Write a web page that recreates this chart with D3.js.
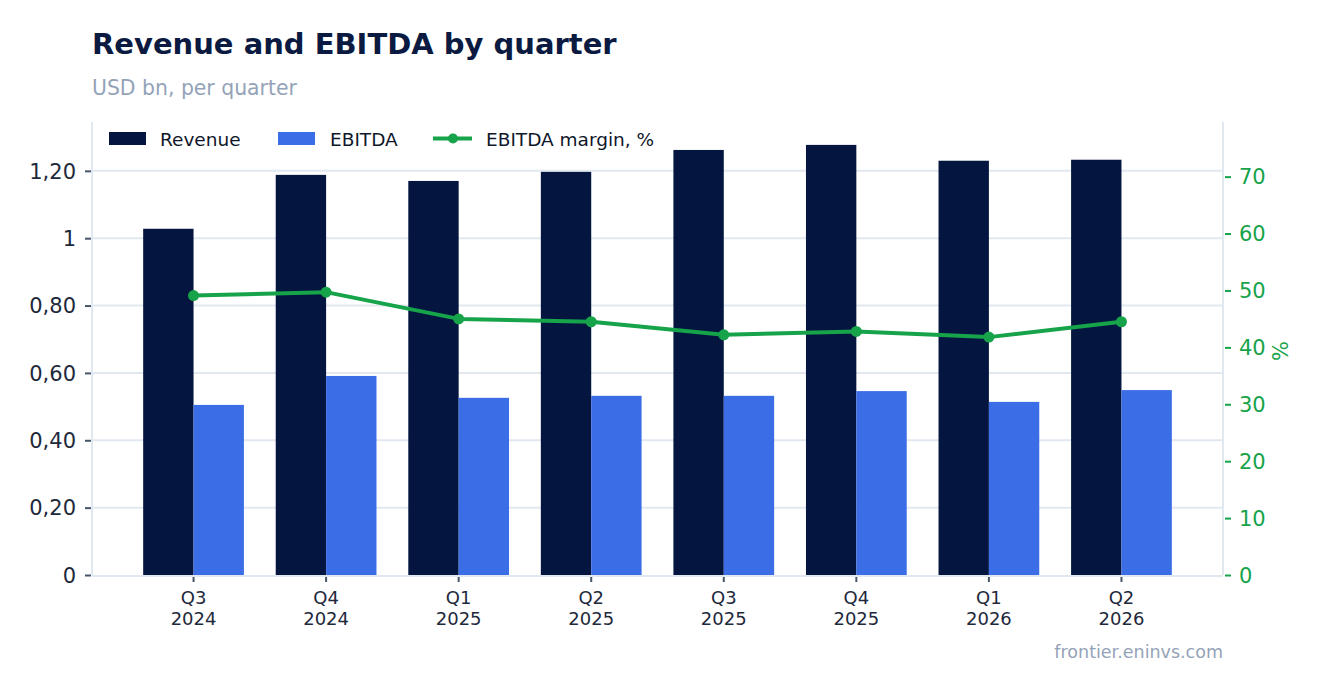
<!DOCTYPE html>
<html>
<head>
<meta charset="utf-8">
<script src="https://cdn.jsdelivr.net/npm/d3@7"></script>
<style>
  html, body { margin: 0; padding: 0; background: #ffffff; }
  svg { display: block; font-family: "DejaVu Sans", sans-serif; }
</style>
</head>
<body>
<svg id="chart" width="1323" height="693"></svg>
<script>
const categories = ["Q3\n2024", "Q4\n2024", "Q1\n2025", "Q2\n2025", "Q3\n2025", "Q4\n2025", "Q1\n2026", "Q2\n2026"];
const revenue = [1.028, 1.188, 1.170, 1.197, 1.262, 1.277, 1.230, 1.233];
const ebitda = [0.505, 0.591, 0.526, 0.532, 0.532, 0.546, 0.514, 0.549];
const margin = [49.1, 49.7, 45.0, 44.5, 42.2, 42.8, 41.8, 44.5];
const leftTicks = [0, 0.2, 0.4, 0.6, 0.8, 1, 1.2];
const leftTickLabels = ["0", "0,20", "0,40", "0,60", "0,80", "1", "1,20"];
const rightTicks = [0, 10, 20, 30, 40, 50, 60, 70];
const seriesNames = ["Revenue", "EBITDA", "EBITDA margin, %"];

(function () {
const colors = { revenue: "#041640", ebitda: "#3a6de6", margin: "#16a34a", grid: "#e2e8f0", text: "#1e293b" };
const FONT = "DejaVu Sans";

const svg = d3.select("#chart");
const pLeft = 92, pRight = 1223, pTop = 122, pBottom = 575;

const x = d3.scaleBand().domain(categories).range([pLeft, pRight]).paddingInner(0.24).paddingOuter(0.386);
const xSub = d3.scaleBand().domain(["rev", "ebitda"]).range([0, x.bandwidth()]);
const y = d3.scaleLinear().domain([0, 1.345]).range([pBottom, pTop]);
const y2 = d3.scaleLinear().domain([0, 79.6]).range([pBottom, pTop]);

// title
svg.append("text").attr("x", 92).attr("y", 54).attr("font-size", 29).attr("font-weight", "bold")
  .attr("fill", "#0b1a40").text("Revenue and EBITDA by quarter");
svg.append("text").attr("x", 92).attr("y", 95).attr("font-size", 20.4).attr("fill", "#94a3b8")
  .text("USD bn, per quarter");

// gridlines
svg.append("g").selectAll("line").data(leftTicks.filter(d => d > 0)).join("line")
  .attr("x1", pLeft).attr("x2", pRight).attr("y1", d => y(d)).attr("y2", d => y(d))
  .attr("stroke", colors.grid).attr("stroke-width", 2);

// axis lines
svg.append("line").attr("x1", pLeft).attr("x2", pLeft).attr("y1", pTop).attr("y2", pBottom).attr("stroke", colors.grid).attr("stroke-width", 2);
svg.append("line").attr("x1", pRight).attr("x2", pRight).attr("y1", pTop).attr("y2", pBottom).attr("stroke", colors.grid).attr("stroke-width", 2);

// bars
const groups = svg.append("g").selectAll("g").data(categories).join("g")
  .attr("transform", d => `translate(${x(d)},0)`);
groups.append("rect").attr("x", xSub("rev")).attr("width", xSub.bandwidth())
  .attr("y", (d, i) => y(revenue[i])).attr("height", (d, i) => y(0) - y(revenue[i])).attr("fill", colors.revenue);
groups.append("rect").attr("x", xSub("ebitda")).attr("width", xSub.bandwidth())
  .attr("y", (d, i) => y(ebitda[i])).attr("height", (d, i) => y(0) - y(ebitda[i])).attr("fill", colors.ebitda);

// x axis baseline
svg.append("line").attr("x1", pLeft).attr("x2", pRight).attr("y1", pBottom + 1).attr("y2", pBottom + 1).attr("stroke", colors.grid).attr("stroke-width", 2);

// x axis
const xAxis = svg.append("g").attr("transform", `translate(0,${pBottom + 2})`)
  .call(d3.axisBottom(x).tickSize(5).tickSizeOuter(0).tickFormat(""))
  .attr("font-family", FONT);
xAxis.select(".domain").remove();
xAxis.selectAll(".tick line").attr("stroke", "#475569").attr("stroke-width", 2);
xAxis.selectAll(".tick").each(function(d) {
  const parts = d.split("\n");
  const t = d3.select(this).append("text").attr("fill", colors.text).attr("font-size", 18)
    .attr("font-family", FONT).attr("text-anchor", "middle");
  t.append("tspan").attr("x", 0).attr("y", 27).text(parts[0]);
  t.append("tspan").attr("x", 0).attr("y", 48).text(parts[1]);
});

// left axis
const yAxis = svg.append("g").attr("transform", `translate(${pLeft - 1},0)`)
  .call(d3.axisLeft(y).tickValues(leftTicks).tickSize(6).tickPadding(9).tickFormat((d, i) => leftTickLabels[i]))
  .attr("font-family", FONT);
yAxis.select(".domain").remove();
yAxis.selectAll(".tick line").attr("stroke", "#475569").attr("stroke-width", 2);
yAxis.selectAll(".tick text").attr("fill", colors.text).attr("font-size", 21).attr("dy", "0.35em");

// right axis
const y2Axis = svg.append("g").attr("transform", `translate(${pRight + 2},0)`)
  .call(d3.axisRight(y2).tickValues(rightTicks).tickSize(6).tickPadding(8).tickFormat(d3.format("d")))
  .attr("font-family", FONT);
y2Axis.select(".domain").remove();
y2Axis.selectAll(".tick line").attr("stroke", colors.margin).attr("stroke-width", 2);
y2Axis.selectAll(".tick text").attr("fill", colors.margin).attr("font-size", 21).attr("dy", "0.35em");
svg.append("text").attr("transform", "translate(1288,351) rotate(-90)").attr("text-anchor", "middle")
  .attr("font-size", 21).attr("fill", colors.margin).text("%");

// margin line
const cx = (d, i) => x(categories[i]) + xSub("ebitda");
const line = d3.line().x((d, i) => cx(d, i)).y(d => y2(d));
svg.append("path").datum(margin).attr("d", line).attr("fill", "none").attr("stroke", colors.margin).attr("stroke-width", 4).attr("stroke-linejoin", "round");
svg.append("g").selectAll("circle").data(margin).join("circle")
  .attr("cx", cx).attr("cy", d => y2(d)).attr("r", 5.5).attr("fill", colors.margin);

// legend
const lg = svg.append("g").attr("font-size", 18.5).attr("fill", "#0f172a");
lg.append("rect").attr("x", 109).attr("y", 132).attr("width", 37).attr("height", 13).attr("fill", colors.revenue);
lg.append("text").attr("x", 160).attr("y", 145.5).text(seriesNames[0]);
lg.append("rect").attr("x", 278).attr("y", 132).attr("width", 37).attr("height", 13).attr("fill", colors.ebitda);
lg.append("text").attr("x", 330).attr("y", 145.5).text(seriesNames[1]);
lg.append("line").attr("x1", 433).attr("x2", 472).attr("y1", 138.5).attr("y2", 138.5).attr("stroke", colors.margin).attr("stroke-width", 4);
lg.append("circle").attr("cx", 453).attr("cy", 138.5).attr("r", 5).attr("fill", colors.margin);
lg.append("text").attr("x", 486).attr("y", 145.5).text(seriesNames[2]);

// watermark
svg.append("text").attr("x", 1223).attr("y", 658).attr("text-anchor", "end").attr("font-size", 17.5)
  .attr("fill", "#94a3b8").text("frontier.eninvs.com");
})();
</script>
</body>
</html>
